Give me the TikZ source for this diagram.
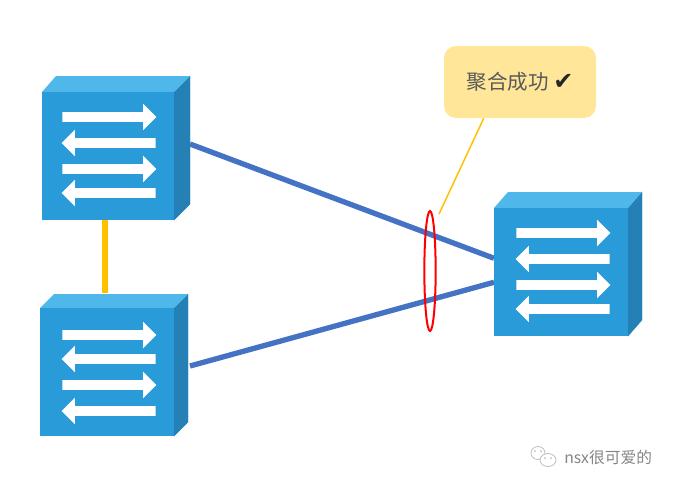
\documentclass[tikz,border=0pt]{standalone}
\usepackage{fontspec}
\setmainfont{Noto Sans CJK SC}
\newfontfamily\symfont{DejaVu Sans}
\usetikzlibrary{shapes.geometric,shapes.arrows,positioning,calc,backgrounds}
\definecolor{cFront}{RGB}{41,155,216}
\definecolor{cTop}{RGB}{79,183,234}
\definecolor{cSide}{RGB}{37,128,181}
\definecolor{cLink}{RGB}{68,114,196}
\definecolor{cGold}{RGB}{255,192,0}
\definecolor{cNote}{RGB}{255,230,153}
\definecolor{cMark}{RGB}{190,190,190}
\tikzset{
  frontbox/.style={rectangle,fill=cFront,inner sep=0pt,minimum height=96pt,anchor=north west},
  flowarr/.style={single arrow,fill=white,inner xsep=0pt,inner ysep=3.4pt,minimum width=19.5pt,
                  minimum height=70.5pt,single arrow head extend=6.4pt,
                  single arrow head indent=0pt},
  bluelink/.style={draw=cLink,line width=4pt},
  goldlink/.style={draw=cGold,line width=4.5pt},
  notebox/.style={rectangle,rounded corners=9pt,fill=cNote,inner sep=0pt,
                  minimum width=114pt,minimum height=54pt,
                  font=\fontsize{15.4pt}{17pt}\selectfont,text=black!65},
  marktext/.style={font=\fontsize{11.8pt}{14pt}\selectfont,text=black!48,inner sep=0pt}
}
% name, left, top, width, back left, back right, rise, arrow centre, arrows (y/turn)
\newcommand{\switchbox}[9]{
  \fill[cSide,draw=cSide,line width=0.3pt] ($(#2,#3)+(#4,0)$) -- ++(#6,-#7) -- ++(0,128) -- ++(-#6,#7) -- cycle;
  \fill[cTop] ($(#2,#3)+(#4,0)$) -- ++(#6,-#7) -- ($(#2,#3)+(#5,-#7)$) -- (#2,#3) -- cycle;
  \node[frontbox,minimum width=#4*0.75pt] (#1) at (#2,#3) {};
  \foreach \ay/\turn in {#9}
    \node[flowarr,shape border rotate=\turn,xshift={-1.5pt*cos(\turn)}] (#1a\ay) at (#8,\ay) {};
}

\begin{document}
\begin{tikzpicture}[x=0.75pt,y=-0.75pt]
  \useasboundingbox (0,0) rectangle (674,486);

  \switchbox{swa}{42}{92}{132}{14}{16}{16}{109}{117/0,143/180,169/0,193/180}
  \switchbox{swb}{40}{308}{134}{14}{14}{14}{109}{335/0,359/180,385/0,411/180}
  \switchbox{swc}{494}{208}{134}{14}{14}{16}{563}{233/0,259/180,285/0,309/180}

  \node[notebox] (note) at (520,82)
      {\raisebox{-2.4pt}{聚合成功 {\symfont\fontsize{18pt}{20pt}\selectfont\textcolor{black!85}{✔}}}};
  \node[draw=red,line width=1.5pt,ellipse,inner sep=0pt,minimum width=8.5pt,
        minimum height=90pt] (ring) at (430,271) {};
  \coordinate (pa) at (190,144);
  \coordinate (pb) at (190,366);
  \coordinate (ptr) at (439,214);

  \begin{scope}[on background layer]
    \draw[bluelink] (pa) -- ([yshift=10.5pt]swc.west);
    \draw[bluelink] (pb) -- ([yshift=-7.5pt]swc.west);
  \end{scope}
  \draw[goldlink] (104.5,220) coordinate (ga) -- (104.5,293) coordinate (gb);
  \draw[cGold,line width=1.1pt] (note.south west) ++(40,0) -- (ptr);

  % watermark
  \draw[cMark,line width=0.6pt] (538,453) ellipse (7 and 6.5);
  \draw[cMark,line width=0.6pt,fill=white] (548,460) ellipse (8 and 6.5);
  \foreach \dx/\dy in {535/451,541/451,545/458,551/458}
    \fill[cMark] (\dx,\dy) circle (1);
  \node[marktext,anchor=west] (mark) at (564,457) {nsx很可爱的};
\end{tikzpicture}
\end{document}
